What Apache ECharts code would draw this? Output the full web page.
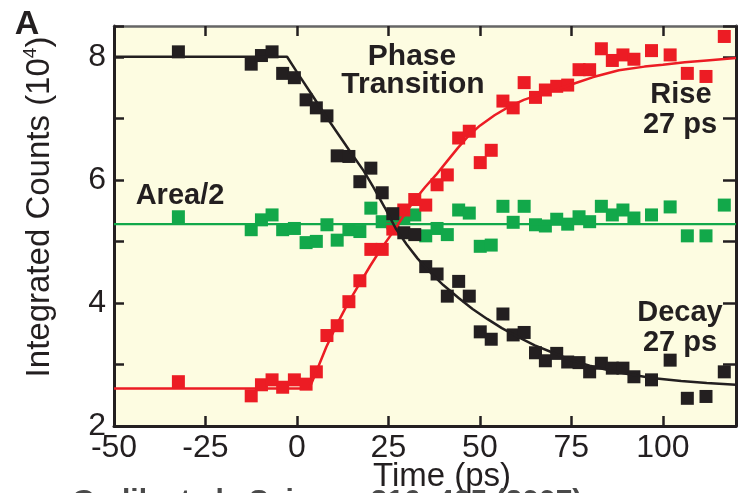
<!DOCTYPE html>
<html>
<head>
<meta charset="utf-8">
<script src="https://cdn.jsdelivr.net/npm/echarts@6/dist/echarts.min.js"></script>
<style>
  html, body { margin: 0; padding: 0; background: #ffffff; }
  #chart { width: 739px; height: 493px; }
</style>
</head>
<body>
<div id="chart"></div>
<script>
// Delay times (ps) shared by the three measured series
const times = [-32.4, -12.5, -9.7, -6.8, -3.9, -0.7, 2.5, 5.3, 8.2, 11.0, 14.2, 17.2, 20.2, 23.3, 26.2, 29.2, 32.2, 35.2, 38.3, 41.1, 44.2, 47.1, 50.1, 53.1, 56.3, 59.1, 62.1, 65.2, 67.9, 71.0, 74.0, 77.1, 80.0, 83.2, 86.2, 89.1, 92.1, 96.9, 102.0, 106.7, 111.8, 116.8];

// Integrated counts (10^4)
const decayCounts = [8.08, 7.88, 8.02, 8.08, 7.73, 7.66, 7.30, 7.17, 7.04, 6.39, 6.38, 5.97, 6.19, 5.79, 5.45, 5.14, 5.11, 4.59, 4.47, 4.11, 4.35, 4.11, 3.53, 3.41, 3.82, 3.48, 3.52, 3.19, 3.06, 3.18, 3.04, 3.03, 2.88, 3.02, 2.94, 2.94, 2.80, 2.75, 3.07, 2.45, 2.48, 2.88];
const riseCounts  = [2.72, 2.49, 2.67, 2.75, 2.63, 2.75, 2.68, 2.88, 3.47, 3.63, 4.02, 4.36, 4.87, 4.87, 5.20, 5.51, 5.68, 5.59, 5.92, 6.08, 6.68, 6.79, 6.28, 6.48, 7.28, 7.17, 7.58, 7.34, 7.46, 7.52, 7.54, 7.79, 7.79, 8.13, 7.94, 8.03, 7.96, 8.10, 8.03, 7.73, 7.68, 8.33];
const areaHalf    = [5.40, 5.19, 5.35, 5.43, 5.19, 5.21, 4.98, 5.00, 5.27, 5.02, 5.19, 5.16, 5.54, 5.32, 5.30, 5.38, 5.43, 5.09, 5.21, 5.11, 5.51, 5.46, 4.92, 4.94, 5.57, 5.31, 5.57, 5.27, 5.25, 5.36, 5.28, 5.40, 5.32, 5.57, 5.43, 5.51, 5.38, 5.43, 5.56, 5.09, 5.09, 5.59];

// Fitted curves
const decayFitT = [-50, -2.7, 0, 4, 8.3, 12, 15, 18.2, 21, 24, 27, 30, 33, 36, 40, 44.2, 48, 52, 56, 60, 65, 70, 75, 80, 85, 90, 97, 105, 112, 120];
const decayFitV = [8.00, 8.00, 7.75, 7.39, 7.00, 6.68, 6.42, 6.15, 5.87, 5.55, 5.21, 4.95, 4.72, 4.52, 4.29, 4.08, 3.90, 3.74, 3.59, 3.46, 3.31, 3.19, 3.07, 2.98, 2.91, 2.85, 2.78, 2.73, 2.70, 2.67];
const riseFitT  = [-50, 3.4, 5, 8, 11, 14, 17, 20, 23, 26, 29, 32, 35, 38, 41, 44, 47, 50, 54, 58, 62, 66, 71, 76, 81, 88, 95, 100, 106, 112, 120];
const riseFitV  = [2.61, 2.61, 2.84, 3.28, 3.66, 4.00, 4.30, 4.60, 4.88, 5.13, 5.40, 5.66, 5.88, 6.08, 6.30, 6.52, 6.72, 6.88, 7.05, 7.19, 7.30, 7.38, 7.47, 7.57, 7.67, 7.78, 7.84, 7.87, 7.91, 7.94, 7.98];
const areaLevelT = [-50, 120];
const areaLevelV = [5.28, 5.28];

// Axis ticks
const xTickValues = [-50, -25, 0, 25, 50, 75, 100];
const yTickValues = [2, 4, 6, 8];

const FONT = '"Liberation Sans", Arial, Helvetica, sans-serif';
const INK = '#231f20';
const RED = '#ec1c24';
const GREEN = '#12a84a';

const zip = (xs, ys) => xs.map((x, i) => [x, ys[i]]);

const chart = echarts.init(document.getElementById('chart'), null, { renderer: 'canvas' });

const tickStyle = { inside: true, length: 10, lineStyle: { color: INK, width: 2.5 } };

const pointSeries = (name, values, color) => ({
  name, type: 'scatter', data: zip(times, values), symbol: 'rect', symbolSize: 13,
  itemStyle: { color, opacity: 1 }, z: 2
});

const fitSeries = (name, xs, ys, color, width) => ({
  name, type: 'line', data: zip(xs, ys), showSymbol: false,
  lineStyle: { color, width }, z: 3, silent: true
});

const label = (text, x, y, size) => ({
  type: 'text', x, y, z: 10,
  style: { text, font: 'bold ' + size + 'px ' + FONT, fill: INK, align: 'center', verticalAlign: 'middle' }
});

chart.setOption({
  animation: false,
  backgroundColor: '#ffffff',
  grid: {
    left: 114, right: -7, top: 26, bottom: 67,
    show: true, backgroundColor: '#fdfce1', borderWidth: 0
  },
  xAxis: [
    {
      type: 'value', min: -50, max: 120, interval: 25, position: 'bottom',
      axisLine: { onZero: false, lineStyle: { color: INK, width: 3 } },
      axisTick: tickStyle,
      axisLabel: {
        color: INK, fontSize: 32, fontFamily: FONT, margin: 6,
        formatter: v => xTickValues.includes(v) ? String(v) : ''
      },
      splitLine: { show: false }
    },
    {
      type: 'value', min: -50, max: 120, interval: 25, position: 'top',
      axisLine: { onZero: false, lineStyle: { color: '#666666', width: 2.5 } },
      axisTick: tickStyle,
      axisLabel: { show: false },
      splitLine: { show: false }
    }
  ],
  yAxis: [
    {
      type: 'value', min: 2, max: 8.5, interval: 1, position: 'left',
      axisLine: { onZero: false, lineStyle: { color: INK, width: 3 } },
      axisTick: tickStyle,
      axisLabel: {
        color: INK, fontSize: 32, fontFamily: FONT, margin: 8,
        formatter: v => yTickValues.includes(v) ? String(v) : ''
      },
      splitLine: { show: false }
    },
    {
      type: 'value', min: 2, max: 8.5, interval: 1, position: 'right',
      axisLine: { onZero: false, lineStyle: { color: INK, width: 3 } },
      axisTick: { inside: true, length: 13, lineStyle: { color: INK, width: 2.5 } },
      axisLabel: { show: false },
      splitLine: { show: false }
    }
  ],
  series: [
    pointSeries('Area/2', areaHalf, GREEN),
    pointSeries('Rise', riseCounts, RED),
    pointSeries('Decay', decayCounts, INK),
    fitSeries('Area/2 level', areaLevelT, areaLevelV, GREEN, 2.2),
    fitSeries('Rise fit', riseFitT, riseFitV, RED, 2.5),
    fitSeries('Decay fit', decayFitT, decayFitV, INK, 2.5)
  ],
  graphic: [
    label('A', 27, 25, 34),
    label('Phase', 412, 57, 30),
    label('Transition', 413, 85, 30),
    label('Rise', 681, 95, 29),
    label('27 ps', 680, 125, 29),
    label('Decay', 680, 313, 29),
    label('27 ps', 680, 343, 29),
    label('Area/2', 180, 196, 29),
    { type: 'text', x: 442, y: 477, style: { text: 'Time (ps)', font: '33px ' + FONT, fill: INK, align: 'center', verticalAlign: 'middle' } },
    { type: 'text', x: 40, y: 207, rotation: Math.PI / 2,
      style: {
        text: '{a|Integrated Counts (10}{s|4}{a|)}',
        align: 'center', verticalAlign: 'middle',
        rich: {
          a: { fontSize: 33, fontFamily: FONT, fill: INK, color: INK, lineHeight: 38 },
          s: { fontSize: 19, fontFamily: FONT, fill: INK, color: INK, verticalAlign: 'top', lineHeight: 38 }
        }
      }
    },
    { type: 'text', x: 72, y: 487, style: { text: 'Gedik et al., Science 316, 425 (2007)', font: 'bold 30px ' + FONT, fill: '#4a4a4a', align: 'left', verticalAlign: 'top' } }
  ]
});
</script>
</body>
</html>
